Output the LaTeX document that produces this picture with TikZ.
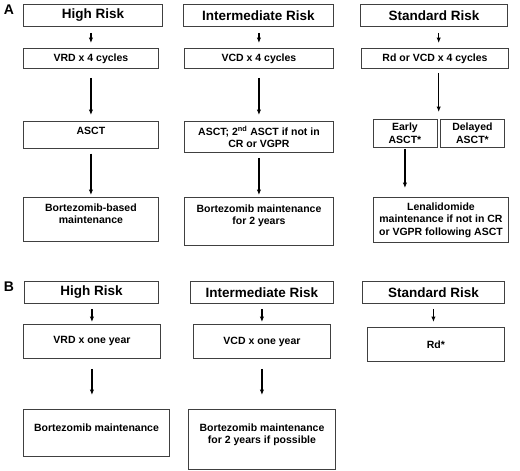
\documentclass[tikz,border=0pt]{standalone}
\usepackage{fontspec}
\setmainfont{Liberation Sans}
\usetikzlibrary{arrows.meta, positioning, calc}

\begin{document}
\begin{tikzpicture}[x=1pt, y=-1pt, >=Latex,
    box/.style={draw=black!75, line width=0.9pt, anchor=north west, align=center,
      inner xsep=2pt, inner ysep=0pt, font=\bfseries\fontsize{10.5}{12.5}\selectfont},
    riskbox/.style={box, minimum height=22pt, font=\bfseries\fontsize{13.5}{15}\selectfont},
    topbox/.style 2 args={box, inner ysep=#1, text depth=#2},
    panel/.style={font=\bfseries\fontsize{14}{16}\selectfont, inner sep=0pt},
    arr/.style={line width=#1, -{Latex[length=5.5pt,width=4.5pt]}},
    arr/.default=1.8pt]
  \useasboundingbox (0,0) rectangle (520,471);
  % Panel A
  \node[panel] (lblA) at (9,10) {A};
  \node[riskbox, minimum width=139pt] (hiA) at (23,4) {High Risk};
  \node[box, minimum width=135pt, minimum height=20pt] (vrdA) at (23,48) {VRD x 4 cycles};
  \node[topbox={6pt}{7.4pt}, minimum width=135pt] (asctA) at (23,121) {ASCT};
  \node[topbox={6pt}{11.9pt}, minimum width=135pt] (bzbA) at (23,197)
    {Bortezomib-based\\maintenance};
  \node[riskbox, minimum width=150pt] (intA) at (183,4) {Intermediate Risk};
  \node[box, minimum width=149pt, minimum height=20pt] (vcdA) at (184,48) {VCD x 4 cycles};
  \node[box, minimum width=149pt, minimum height=31pt] (asct2A) at (184,121)
    {ASCT; 2\textsuperscript{nd} ASCT if not in\\CR or VGPR};
  \node[topbox={7pt}{13.9pt}, minimum width=149pt] (bzmA) at (184,197)
    {Bortezomib maintenance\\for 2 years};
  \node[riskbox, minimum width=147pt] (stdA) at (360,4) {Standard Risk};
  \node[box, minimum width=147pt, minimum height=20pt] (rdA) at (361,48) {Rd or VCD x 4 cycles};
  \node[box, minimum width=64pt, minimum height=28pt] (early) at (372.5,119) {Early\\ASCT*};
  \node[box, minimum width=64pt, minimum height=28pt] (delayed) at (440,119) {Delayed\\ASCT*};
  \node[box, minimum width=135pt, minimum height=45pt] (lena) at (373,197)
    {Lenalidomide\\maintenance if not in CR\\or VGPR following ASCT};
  \coordinate (split) at ($(early.north east)!0.5!(delayed.north west)$);
  % Arrows A
  \draw[arr=1.5pt, shorten <=6pt, shorten >=5pt] (vrdA.north |- hiA.south) -- (vrdA.north);
  \draw[arr, shorten <=9pt, shorten >=6pt] (vrdA.south) -- (asctA.north);
  \draw[arr, shorten <=5pt, shorten >=2pt] (asctA.south) -- (bzbA.north);
  \draw[arr=1.5pt, shorten <=6pt, shorten >=5pt] (vcdA.north |- intA.south) -- (vcdA.north);
  \draw[arr, shorten <=9pt, shorten >=6pt] (vcdA.south) -- (asct2A.north);
  \draw[arr, shorten <=5pt, shorten >=2pt] (asct2A.south) -- (bzmA.north);
  \draw[arr=1.1pt, shorten <=6pt, shorten >=5pt] (split |- stdA.south) -- (split |- rdA.north);
  \draw[arr=1.1pt, shorten <=4pt, shorten >=7pt] (split |- rdA.south) -- (split);
  \draw[arr=2pt, shorten <=1pt, shorten >=9pt] (early.south) -- (early.south |- lena.north);
  % Panel B
  \node[panel] (lblB) at (9,287) {B};
  \node[riskbox, minimum width=134pt] (hiB) at (24,281) {High Risk};
  \node[box, minimum width=137pt, minimum height=34pt] (vrdB) at (23,324) {VRD x one year};
  \node[topbox={14pt}{11.4pt}, minimum width=146pt] (bzB) at (23,409) {Bortezomib maintenance};
  \node[riskbox, minimum width=143pt] (intB) at (190,281) {Intermediate Risk};
  \node[box, minimum width=137pt, minimum height=34pt] (vcdB) at (193,324) {VCD x one year};
  \node[topbox={14pt}{11.9pt}, minimum width=147pt] (bzmB) at (188,409)
    {Bortezomib maintenance\\for 2 years if possible};
  \node[riskbox, minimum width=142pt] (stdB) at (362,281) {Standard Risk};
  \node[box, minimum width=137pt, minimum height=34pt] (rdB) at (367,327) {Rd*};
  % Arrows B
  \draw[arr=1.5pt, shorten <=5pt, shorten >=2pt] (vrdB.north |- hiB.south) -- (vrdB.north);
  \draw[arr, shorten <=10pt, shorten >=14pt] (vrdB.south) -- (vrdB.south |- bzB.north);
  \draw[arr=1.5pt, shorten <=5pt, shorten >=2pt] (vcdB.north |- intB.south) -- (vcdB.north);
  \draw[arr, shorten <=10pt, shorten >=14pt] (vcdB.south) -- (vcdB.south |- bzmB.north);
  \draw[arr=1.5pt, shorten <=5pt, shorten >=5pt] (stdB.south) -- (stdB.south |- rdB.north);
\end{tikzpicture}
\end{document}
